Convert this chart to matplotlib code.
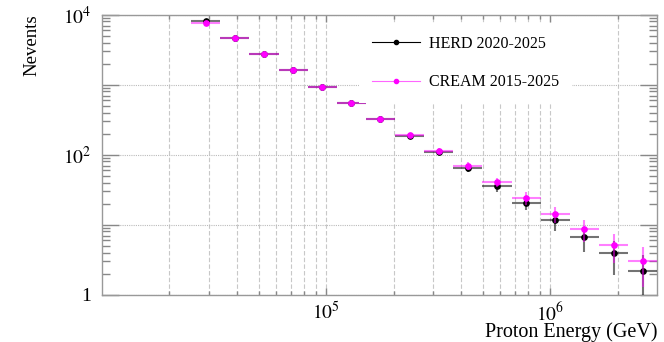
import numpy as np
import matplotlib
matplotlib.use("Agg")
from matplotlib import pyplot as plt
from matplotlib.lines import Line2D
from matplotlib.ticker import FixedLocator, FixedFormatter, NullFormatter

plt.rcParams['font.family'] = ['Liberation Serif', 'DejaVu Serif']
plt.rcParams['mathtext.fontset'] = 'stix'

# energy bin edges (GeV), log spaced
bin_edges = [2.50e4, 3.37e4, 4.55e4, 6.14e4, 8.28e4, 1.117e5, 1.506e5, 2.031e5,
             2.740e5, 3.696e5, 4.986e5, 6.725e5, 9.072e5, 1.224e6, 1.651e6,
             2.226e6, 3.0e6]
# expected event counts per bin
herd_counts = [8050, 4650, 2750, 1610, 936, 553, 327, 187, 109, 64.1, 35.7,
               20.6, 11.6, 6.67, 3.90, 2.18]
cream_counts = [7690, 4650, 2750, 1610, 936, 553, 327, 191, 113, 69.2, 40.7,
                24.2, 14.4, 8.6, 5.08, 3.03]
herd_label = 'HERD 2020-2025'
cream_label = 'CREAM 2015-2025'

edges = np.array(bin_edges)
centers = np.sqrt(edges[:-1] * edges[1:])
xerr = [centers - edges[:-1], edges[1:] - centers]
herd = np.array(herd_counts)
cream = np.array(cream_counts)

fig = plt.figure(figsize=(6.64, 3.42), dpi=100)
ax = fig.add_axes([0.1536, 0.1383, 0.836, 0.8187])
ax.set_xscale('log')
ax.set_yscale('log')
ax.set_xlim(1e4, 3e6)
ax.set_ylim(1, 1e4)

# poisson errors sqrt(N)
ax.errorbar(centers, herd, xerr=xerr, yerr=np.sqrt(herd), fmt='o', ms=3.8,
            color='black', ecolor=(0, 0, 0, 0.55), elinewidth=1.5, capsize=0,
            zorder=3)
ax.errorbar(centers, cream, xerr=xerr, yerr=np.sqrt(cream), fmt='o', ms=3.8,
            color='#ff00ff', ecolor=(1, 0, 1, 0.5), elinewidth=1.5, capsize=0,
            zorder=4)

# axis ticks
xmajor = [1e5, 1e6]
xminor = [2e4, 3e4, 4e4, 5e4, 6e4, 7e4, 8e4, 9e4,
          2e5, 3e5, 4e5, 5e5, 6e5, 7e5, 8e5, 9e5, 2e6]
ax.xaxis.set_major_locator(FixedLocator(xmajor))
ax.xaxis.set_major_formatter(FixedFormatter([r'$10^{5}$', r'$10^{6}$']))
ax.xaxis.set_minor_locator(FixedLocator(xminor))
ax.xaxis.set_minor_formatter(NullFormatter())

ymajor = [1, 10, 100, 1000, 10000]
yminor = [m * 10 ** d for d in range(4) for m in range(2, 10)]
ax.yaxis.set_major_locator(FixedLocator(ymajor))
ax.yaxis.set_major_formatter(FixedFormatter(['1', '', r'$10^{2}$', '', r'$10^{4}$']))
ax.yaxis.set_minor_locator(FixedLocator(yminor))
ax.yaxis.set_minor_formatter(NullFormatter())

ax.tick_params(axis='both', which='both', direction='in', colors='#888888',
               labelcolor='black', top=True, right=True)
ax.tick_params(axis='x', which='major', length=5, width=1, pad=5, labelsize=14)
ax.tick_params(axis='x', which='minor', length=3, width=1)
ax.tick_params(axis='y', which='major', length=12, width=1, pad=8, labelsize=14)
ax.tick_params(axis='y', which='minor', length=6, width=1)
for s in ax.spines.values():
    s.set_color('#999999')
    s.set_linewidth(1)

ax.grid(True, axis='x', which='both', color='#c8c8c8', ls=(0, (4, 2)), lw=0.8)
ax.grid(True, axis='y', which='major', color='#bbbbbb', ls=(0, (1, 1)), lw=0.8)
ax.set_axisbelow(True)

ax.set_xlabel('Proton Energy (GeV)', fontsize=14.5, loc='right')
ax.xaxis.set_label_coords(1.0, -0.1)
ax.xaxis.label.set_va('top')
ax.set_ylabel('Nevents', fontsize=13.5, loc='top')
ax.yaxis.set_label_coords(-0.11, 1.0)

handles = [Line2D([], [], color='black', lw=0.8, marker='o', ms=3),
           Line2D([], [], color='#ff66ff', lw=0.8, marker='o', ms=3,
                  mfc='#ff00ff', mec='#ff00ff')]
leg = ax.legend(handles, [herd_label, cream_label], loc='upper left',
                bbox_to_anchor=(0.449, 0.998), fontsize=11.5, frameon=True,
                fancybox=False, handlelength=3.0, handletextpad=0.6,
                labelspacing=1.4, borderpad=0.8)
leg.get_frame().set_facecolor('white')
leg.get_frame().set_edgecolor('none')
leg.get_frame().set_alpha(1)

fig.savefig('out.png', dpi=100)
